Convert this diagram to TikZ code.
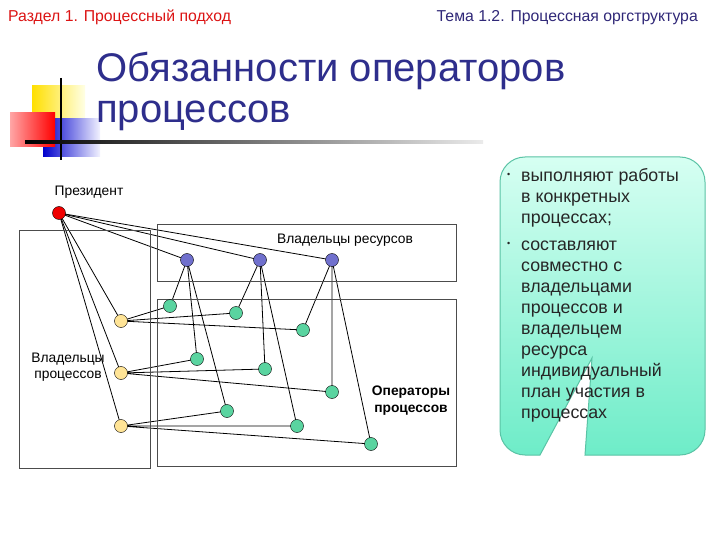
\documentclass[tikz,border=0pt]{standalone}
\usepackage{fontspec}
\setmainfont{Liberation Sans}
\usepackage{tikz}
\usetikzlibrary{calc}
\usetikzlibrary{backgrounds}
\usetikzlibrary{positioning}
\definecolor{hdred}{RGB}{220,20,20}
\definecolor{hdblue}{RGB}{48,40,120}
\definecolor{ttblue}{RGB}{46,46,140}
\definecolor{prred}{RGB}{240,0,0}
\definecolor{rsblue}{RGB}{112,112,205}
\definecolor{pwyel}{RGB}{255,228,150}
\definecolor{opgreen}{RGB}{90,212,160}
\definecolor{bubtop}{RGB}{214,255,242}
\definecolor{bubbot}{RGB}{110,236,200}
\definecolor{bubline}{RGB}{90,195,165}
\tikzset{vertex/.style={circle,draw=black,thin,minimum size=13pt,inner sep=0pt}}
\tikzset{area/.style={draw=black!70,line width=0.9pt}}
\tikzset{lbl/.style={font=\fontsize{13.8}{16}\selectfont,inner sep=0pt}}
\tikzset{hdr/.style={font=\fontsize{15.8}{18}\selectfont,inner sep=0pt}}
\tikzset{bubtext/.style={font=\fontsize{17.8}{21}\selectfont,text=black!85,align=left,inner sep=0pt,anchor=north west}}
\tikzset{link/.style={black,line width=0.8pt}}

\begin{document}
\begin{tikzpicture}[x=1pt,y=-1pt]
\useasboundingbox (0,0) rectangle (720,540);
\begin{pgfonlayer}{background}
    \fill[white] (0,0) rectangle (720,540);
\end{pgfonlayer}

    % header
    \node[hdr,anchor=base west,text=hdred] (sec) at (8,22) {Раздел 1. Процессный подход};
    \node[hdr,anchor=base east,text=hdblue] (topic) at (698,22) {Тема 1.2. Процессная оргструктура};

    % logo squares
    \shade[left color=yellow!75!orange,right color=yellow!10] (32,86) rectangle (85,120);
    \shade[left color=blue!80!black,right color=blue!5] (43,119) rectangle (100,157);
    \shade[left color=red!35,right color=red] (10,113) rectangle (55,147);
    \draw[black,line width=2pt] (61,78) -- (61,160);
    \shade[left color=black,right color=black!8] (25,140.5) rectangle (483,143.5);

    % title
    \node[anchor=base west,inner sep=0pt,text=ttblue,font=\fontsize{40}{43}\selectfont] (title1) at (96,82) {Обязанности операторов};
    \node[anchor=base west,inner sep=0pt,text=ttblue,font=\fontsize{40}{43}\selectfont] (title2) at (96,123) {процессов};

    % boxes
    \draw[area] (19,230) rectangle (150,468);
    \draw[area] (157,224) rectangle (456,281);
    \draw[area] (157,299) rectangle (456,466);

    \node[lbl] (lpres) at (89,192) {Президент};
    \node[lbl] (lres) at (345,240) {Владельцы ресурсов};
    \node[lbl,align=center] (lproc) at (68,367) {Владельцы\\процессов};
    \node[lbl,align=center,font=\bfseries\fontsize{13.8}{17}\selectfont] (lops) at (411,401) {Операторы\\процессов};

    % nodes
    \node[vertex,fill=prred] (P) at (59,213) {};
    \node[vertex,fill=rsblue] (R1) at (187,260) {};
    \node[vertex,fill=rsblue] (R2) at (260,260) {};
    \node[vertex,fill=rsblue] (R3) at (332,260) {};
    \node[vertex,fill=pwyel] (W1) at (121,321) {};
    \node[vertex,fill=pwyel] (W2) at (121,373) {};
    \node[vertex,fill=pwyel] (W3) at (121,426) {};
    \node[vertex,fill=opgreen] (O1) at (170,306) {};
    \node[vertex,fill=opgreen] (O2) at (236,313) {};
    \node[vertex,fill=opgreen] (O3) at (303,330) {};
    \node[vertex,fill=opgreen] (O4) at (197,359) {};
    \node[vertex,fill=opgreen] (O5) at (265,369) {};
    \node[vertex,fill=opgreen] (O6) at (332,392) {};
    \node[vertex,fill=opgreen] (O7) at (227,411) {};
    \node[vertex,fill=opgreen] (O8) at (297,426) {};
    \node[vertex,fill=opgreen] (O9) at (371,444) {};

    % links
    \begin{scope}[on background layer]
    \foreach \t in {R1,R2,R3,W1,W2,W3}
        \draw[link] (P.center) -- (\t.center);
    \foreach \w/\a/\b/\c in {W1/O1/O2/O3,W2/O4/O5/O6,W3/O7/O8/O9}
        \draw[link] (\a.center) -- (\w.center) -- (\b.center) (\w.center) -- (\c.center);
    \foreach \r/\a/\b/\c in {R1/O1/O4/O7,R2/O2/O5/O8,R3/O3/O6/O9}
        \draw[link] (\a.center) -- (\r.center) -- (\b.center) (\r.center) -- (\c.center);
    \end{scope}

    % callout
    \path[draw=bubline,line width=1pt,top color=bubtop,bottom color=bubbot]
        (592,358) -- (540,455) [rounded corners=25pt] -- (500,455) -- (500,157) -- (705,157) -- (705,455) [sharp corners] -- (585,455) -- cycle;

    \node[bubtext,anchor=base west] (b1) at (507,178) {\fontsize{9}{9}\selectfont\textbullet};
    \node[bubtext] (t1) at (521,166.3) {\strut выполняют работы\\в конкретных\\процессах;};
    \node[bubtext,anchor=base west] (b2) at (507,247) {\fontsize{9}{9}\selectfont\textbullet};
    \node[bubtext] (t2) at (521,235.3) {\strut составляют\\совместно с\\владельцами\\процессов и\\владельцем\\ресурса\\индивидуальный\\план участия в\\процессах};
\end{tikzpicture}
\end{document}
